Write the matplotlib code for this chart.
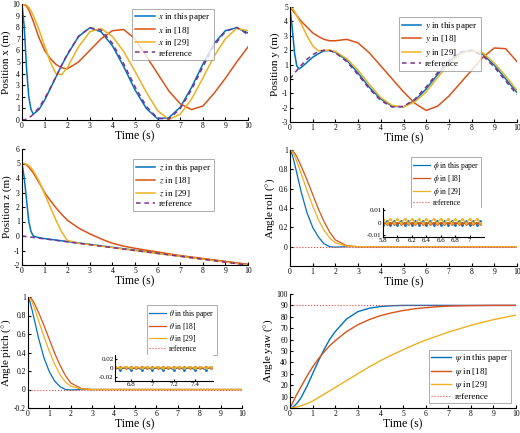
import matplotlib
matplotlib.use("Agg")
import matplotlib.pyplot as plt
from matplotlib.ticker import FormatStrFormatter

plt.rcParams['font.family'] = ['Liberation Serif', 'DejaVu Serif']
plt.rcParams['mathtext.fontset'] = 'stix'
plt.rcParams['font.size'] = 7

T = [0, 0.1, 0.2, 0.3, 0.4, 0.5, 0.75, 1, 1.25, 1.5, 1.75, 2, 2.5, 3, 3.5, 4, 4.5, 5,
     5.5, 6, 6.5, 7, 7.5, 8, 8.5, 9, 9.5, 10]

x_ours = [10, 8, 4.5, 2, 0.9, 0.5, 0.9, 1.7, 2.7, 3.7, 4.7, 5.6, 7.2, 7.95, 7.6, 6.4, 4.6, 2.6,
          1.0, 0.1, 0.2, 1.1, 2.8, 4.8, 6.6, 7.7, 7.95, 7.5]
x_18 = [10, 9.95, 9.8, 9.5, 9.0, 8.5, 7.1, 6.0, 5.3, 4.8, 4.5, 4.4, 5.0, 6.0, 7.0, 7.7, 7.8, 7.0,
        5.5, 4.0, 2.5, 1.4, 0.9, 1.2, 2.3, 3.6, 5.0, 6.3]
x_29 = [10, 10, 9.9, 9.7, 9.4, 9.0, 7.8, 6.4, 5.0, 4.0, 3.9, 4.5, 6.3, 7.6, 7.9, 7.2, 5.9, 4.2,
        2.4, 0.8, 0.05, 0.5, 1.8, 3.6, 5.5, 7.0, 7.9, 7.7]
x_ref = [0, 0.02, 0.08, 0.18, 0.32, 0.49, 1.07, 1.84, 2.74, 3.72, 4.71, 5.66, 7.20, 7.96, 7.75,
         6.61, 4.84, 2.87, 1.17, 0.16, 0.09, 0.98, 2.61, 4.58, 6.41, 7.64, 7.99, 7.36]

y_ours = [4.9, 3.5, 1.8, 0.9, 0.7, 0.8, 1.15, 1.5, 1.75, 1.95, 1.97, 1.85, 1.3, 0.4, -0.6, -1.4,
          -1.9, -1.95, -1.5, -0.7, 0.3, 1.2, 1.8, 2.0, 1.7, 0.95, 0.0, -0.95]
y_18 = [5, 4.8, 4.6, 4.4, 4.2, 4.0, 3.6, 3.2, 2.95, 2.75, 2.65, 2.65, 2.75, 2.5, 1.8, 0.9, 0.0,
        -0.9, -1.7, -2.2, -1.9, -1.2, -0.3, 0.6, 1.5, 2.15, 2.1, 1.2]
y_29 = [5, 4.9, 4.7, 4.4, 4.1, 3.8, 3.0, 2.3, 1.95, 1.98, 2.0, 1.9, 1.4, 0.6, -0.4, -1.3, -1.85,
        -1.95, -1.6, -0.9, 0.1, 1.0, 1.7, 2.0, 1.8, 1.1, 0.2, -0.8]
y_ref = [0, 0.2, 0.4, 0.59, 0.78, 0.96, 1.36, 1.68, 1.90, 1.995, 1.97, 1.82, 1.20, 0.28, -0.70,
         -1.51, -1.96, -1.92, -1.41, -0.56, 0.43, 1.31, 1.88, 1.98, 1.60, 0.82, -0.15, -1.09]

z_ours = [5, 4.0, 2.5, 1.0, 0.3, 0.0, -0.12, -0.18, -0.23, -0.28, -0.33, -0.38, -0.48, -0.58,
          -0.68, -0.78, -0.88, -0.98, -1.08, -1.18, -1.28, -1.38, -1.48, -1.58, -1.68, -1.78,
          -1.88, -1.98]
z_18 = [5, 4.98, 4.9, 4.75, 4.55, 4.35, 3.7, 3.0, 2.45, 1.95, 1.5, 1.1, 0.55, 0.15, -0.2, -0.5,
        -0.7, -0.85, -0.98, -1.1, -1.23, -1.35, -1.45, -1.55, -1.65, -1.75, -1.85, -1.95]
z_29 = [5, 5, 4.95, 4.85, 4.7, 4.5, 3.8, 2.9, 2.0, 1.1, 0.3, -0.3, -0.5, -0.6, -0.7, -0.8, -0.9,
        -1.0, -1.1, -1.2, -1.3, -1.4, -1.5, -1.6, -1.7, -1.8, -1.9, -2.0]
z_ref = [0, -0.02, -0.04, -0.06, -0.08, -0.1, -0.15, -0.2, -0.25, -0.3, -0.35, -0.4, -0.5, -0.6,
         -0.7, -0.8, -0.9, -1.0, -1.1, -1.2, -1.3, -1.4, -1.5, -1.6, -1.7, -1.8, -1.9, -2.0]

roll_ours = [1, 0.95, 0.86, 0.76, 0.66, 0.56, 0.35, 0.2, 0.1, 0.03, 0.0, -0.005, 0, 0, 0, 0, 0,
             0, 0, 0, 0, 0, 0, 0, 0, 0, 0, 0]
roll_18 = [1, 0.99, 0.97, 0.93, 0.88, 0.83, 0.69, 0.54, 0.39, 0.26, 0.15, 0.07, 0.01, 0, 0, 0, 0,
           0, 0, 0, 0, 0, 0, 0, 0, 0, 0, 0]
roll_29 = [1, 0.98, 0.94, 0.88, 0.82, 0.75, 0.58, 0.42, 0.28, 0.17, 0.09, 0.04, 0.005, 0, 0, 0,
           0, 0, 0, 0, 0, 0, 0, 0, 0, 0, 0, 0]
roll_ref = [0] * len(T)

pitch_ours = [1, 0.94, 0.85, 0.75, 0.65, 0.55, 0.34, 0.19, 0.09, 0.03, 0.0, -0.005, 0, 0, 0, 0,
              0, 0, 0, 0, 0, 0, 0, 0, 0, 0, 0, 0]
pitch_18 = [1, 0.99, 0.97, 0.93, 0.88, 0.83, 0.69, 0.54, 0.39, 0.26, 0.15, 0.07, 0.01, 0, 0, 0,
            0, 0, 0, 0, 0, 0, 0, 0, 0, 0, 0, 0]
pitch_29 = [1, 0.98, 0.94, 0.88, 0.81, 0.74, 0.57, 0.41, 0.27, 0.16, 0.08, 0.035, 0.005, 0, 0, 0,
            0, 0, 0, 0, 0, 0, 0, 0, 0, 0, 0, 0]
pitch_ref = [0] * len(T)

yaw_ours = [0, 0.5, 2, 4, 6.5, 9.5, 19, 30, 41, 51, 60, 67, 78, 84.5, 87.5, 89, 89.7, 90, 90,
            90, 90, 90, 90, 90, 90, 90, 90, 90]
yaw_18 = [0, 4, 8, 12, 15.5, 19, 28, 36, 43, 49, 54.5, 59, 67, 73, 77.5, 81, 83.5, 85.5, 87, 88,
          88.8, 89.3, 89.6, 89.8, 89.9, 90, 90, 90]
yaw_29 = [0, 0.2, 0.5, 0.9, 1.4, 2, 3.8, 6, 9, 12, 15, 18, 24, 30, 36, 41.5, 46.5, 51, 55.5,
          59.5, 63, 66.5, 69.5, 72.5, 75, 77.5, 79.5, 81.5]
yaw_ref = [90] * len(T)

# inset (steady-state ripple) data
roll_in_t = [5.8, 5.85, 5.9, 5.95, 6.0, 6.05, 6.1, 6.15, 6.2, 6.25, 6.3, 6.35, 6.4, 6.45, 6.5,
             6.55, 6.6, 6.65, 6.7, 6.75, 6.8, 6.85, 6.9, 6.95, 7.0, 7.05, 7.1, 7.15]
roll_in_ours = [-0.002, 0.001, -0.002, 0.001, -0.002, 0.001, -0.002, 0.001, -0.002, 0.001,
                -0.002, 0.001, -0.002, 0.001, -0.002, 0.001, -0.002, 0.001, -0.002, 0.001,
                -0.002, 0.001, -0.002, 0.001, -0.002, 0.001, -0.002, 0.001]
roll_in_18 = [0.0, -0.0015, 0.0, -0.0015, 0.0, -0.0015, 0.0, -0.0015, 0.0, -0.0015, 0.0,
              -0.0015, 0.0, -0.0015, 0.0, -0.0015, 0.0, -0.0015, 0.0, -0.0015, 0.0, -0.0015,
              0.0, -0.0015, 0.0, -0.0015, 0.0, -0.0015]
roll_in_29 = [0.003, -0.0005, 0.003, -0.0005, 0.003, -0.0005, 0.003, -0.0005, 0.003, -0.0005,
              0.003, -0.0005, 0.003, -0.0005, 0.003, -0.0005, 0.003, -0.0005, 0.003, -0.0005,
              0.003, -0.0005, 0.003, -0.0005, 0.003, -0.0005, 0.003, -0.0005]

pitch_in_t = [6.65, 6.7, 6.75, 6.8, 6.85, 6.9, 6.95, 7.0, 7.05, 7.1, 7.15, 7.2, 7.25, 7.3, 7.35,
              7.4, 7.45, 7.5, 7.55]
pitch_in_ours = [0.002, -0.004, 0.002, -0.004, 0.002, -0.004, 0.002, -0.004, 0.002, -0.004,
                 0.002, -0.004, 0.002, -0.004, 0.002, -0.004, 0.002, -0.004, 0.002]
pitch_in_18 = [-0.001, 0.002, -0.001, 0.002, -0.001, 0.002, -0.001, 0.002, -0.001, 0.002,
               -0.001, 0.002, -0.001, 0.002, -0.001, 0.002, -0.001, 0.002, -0.001]
pitch_in_29 = [0.003, 0.0, 0.003, 0.0, 0.003, 0.0, 0.003, 0.0, 0.003, 0.0, 0.003, 0.0, 0.003,
               0.0, 0.003, 0.0, 0.003, 0.0, 0.003]

BLUE, ORANGE, YELLOW, PURPLE, RED = '#0072BD', '#D95319', '#EDB120', '#7E2F8E', '#FF4040'
W, H = 520, 433
fig = plt.figure(figsize=(W / 100, H / 100), dpi=100)


def ax_px(x0, y0, x1, y1):
    return fig.add_axes([x0 / W, 1 - y1 / H, (x1 - x0) / W, (y1 - y0) / H])


def style(ax, ylabel, ylim, yticks):
    ax.set_xlim(0, 10)
    ax.set_xticks(range(11))
    ax.set_ylim(*ylim)
    ax.set_yticks(yticks)
    ax.yaxis.set_major_formatter(FormatStrFormatter('%g'))
    ax.set_xlabel('Time (s)', fontsize=8.5, labelpad=0)
    ax.set_ylabel(ylabel, fontsize=8, labelpad=1)
    ax.tick_params(labelsize=5.5, length=2, direction='in', pad=1.5)
    for s in ['top', 'right']:
        ax.spines[s].set_visible(False)


def legend(ax, names, loc, anchor, fs=6.5):
    lg = ax.legend(names, loc=loc, bbox_to_anchor=anchor, fontsize=fs, frameon=True,
                   fancybox=False, edgecolor='#888888', handlelength=2.2,
                   borderpad=0.3, labelspacing=0.15, handletextpad=0.4)
    lg.get_frame().set_linewidth(0.6)


# x
ax = ax_px(22, 4, 248, 120)
ax.plot(T, x_ours, color=BLUE, lw=1.1)
ax.plot(T, x_18, color=ORANGE, lw=1.1)
ax.plot(T, x_29, color=YELLOW, lw=1.1)
ax.plot(T, x_ref, color=PURPLE, lw=1.1, ls='--', dashes=(3, 2.5))
style(ax, 'Position x (m)', (0, 10), range(11))
legend(ax, [r'$x$ in this paper', r'$x$ in [18]', r'$x$ in [29]', 'reference'],
       'upper right', (0.87, 1.0))

# y
ax = ax_px(290, 7, 517, 122)
ax.plot(T, y_ours, color=BLUE, lw=1.1)
ax.plot(T, y_18, color=ORANGE, lw=1.1)
ax.plot(T, y_29, color=YELLOW, lw=1.1)
ax.plot(T, y_ref, color=PURPLE, lw=1.1, ls='--', dashes=(3, 2.5))
style(ax, 'Position y (m)', (-3, 5), range(-3, 6))
legend(ax, [r'$y$ in this paper', r'$y$ in [18]', r'$y$ in [29]', 'reference'],
       'upper right', (0.86, 0.95))

# z
ax = ax_px(22, 149, 248, 265)
ax.plot(T, z_ours, color=BLUE, lw=1.1)
ax.plot(T, z_18, color=ORANGE, lw=1.1)
ax.plot(T, z_29, color=YELLOW, lw=1.1)
ax.plot(T, z_ref, color=PURPLE, lw=1.1, ls='--', dashes=(3, 2.5))
style(ax, 'Position z (m)', (-2, 6), range(-2, 7))
legend(ax, [r'$z$ in this paper', r'$z$ in [18]', r'$z$ in [29]', 'reference'],
       'upper right', (0.87, 0.95))

# roll
ax = ax_px(290, 150, 517, 266)
ax.plot(T, roll_ours, color=BLUE, lw=0.9)
ax.plot(T, roll_18, color=ORANGE, lw=0.9)
ax.plot(T, roll_29, color=YELLOW, lw=0.9)
ax.plot(T, roll_ref, color=RED, lw=0.8, ls=':')
style(ax, r'Angle roll ($\degree$)', (-0.2, 1.0), [0, 0.2, 0.4, 0.6, 0.8, 1])
legend(ax, [r'$\phi$ in this paper', r'$\phi$ in [18]', r'$\phi$ in [29]', 'reference'],
       'upper right', (0.86, 0.97), fs=5.5)
ia = ax_px(383, 208, 484, 237)
ia.plot(roll_in_t, roll_in_ours, color=BLUE, lw=0.8, marker='.', ms=2)
ia.plot(roll_in_t, roll_in_18, color=ORANGE, lw=0.8, marker='.', ms=2)
ia.plot(roll_in_t, roll_in_29, color=YELLOW, lw=0.8, marker='.', ms=2)
ia.set_xlim(5.8, 7.2)
ia.set_ylim(-0.012, 0.012)
ia.set_xticks([5.8, 6, 6.2, 6.4, 6.6, 6.8, 7])
ia.set_xticklabels(['5.8', '6', '6.2', '6.4', '6.6', '6.8', '7'])
ia.set_yticks([-0.01, 0, 0.01])
ia.set_yticklabels(['-0.01', '0', '0.01'])
ia.tick_params(labelsize=5, length=1.5, direction='in', pad=1)
for s in ['top', 'right']:
    ia.spines[s].set_visible(False)

# pitch
ax = ax_px(28, 297, 242, 408)
ax.plot(T, pitch_ours, color=BLUE, lw=0.9)
ax.plot(T, pitch_18, color=ORANGE, lw=0.9)
ax.plot(T, pitch_29, color=YELLOW, lw=0.9)
ax.plot(T, pitch_ref, color=RED, lw=0.8, ls=':')
style(ax, r'Angle pitch ($\degree$)', (-0.2, 1.0), [-0.2, 0, 0.2, 0.4, 0.6, 0.8, 1])
legend(ax, [r'$\theta$ in this paper', r'$\theta$ in [18]', r'$\theta$ in [29]', 'reference'],
       'upper right', (0.9, 0.96), fs=5.5)
ia = ax_px(115, 355, 213, 381)
ia.plot(pitch_in_t, pitch_in_ours, color=BLUE, lw=0.8, marker='.', ms=2)
ia.plot(pitch_in_t, pitch_in_18, color=ORANGE, lw=0.8, marker='.', ms=2)
ia.plot(pitch_in_t, pitch_in_29, color=YELLOW, lw=0.8, marker='.', ms=2)
ia.set_xlim(6.65, 7.57)
ia.set_ylim(-0.03, 0.03)
ia.set_xticks([6.8, 7, 7.2, 7.4])
ia.set_xticklabels(['6.8', '7', '7.2', '7.4'])
ia.set_yticks([-0.02, 0, 0.02])
ia.set_yticklabels(['-0.02', '0', '0.02'])
ia.tick_params(labelsize=5, length=1.5, direction='in', pad=1)
for s in ['top', 'right']:
    ia.spines[s].set_visible(False)

# yaw
ax = ax_px(290, 294, 516, 408)
ax.plot(T, yaw_ours, color=BLUE, lw=1.0)
ax.plot(T, yaw_18, color=ORANGE, lw=1.0)
ax.plot(T, yaw_29, color=YELLOW, lw=1.0)
ax.plot(T, yaw_ref, color=RED, lw=0.8, ls=':')
style(ax, r'Angle yaw ($\degree$)', (0, 100), range(0, 101, 10))
legend(ax, [r'$\psi$ in this paper', r'$\psi$ in [18]', r'$\psi$ in [29]', 'reference'],
       'lower right', (1.0, 0.0))

fig.savefig('out.png', dpi=100)
